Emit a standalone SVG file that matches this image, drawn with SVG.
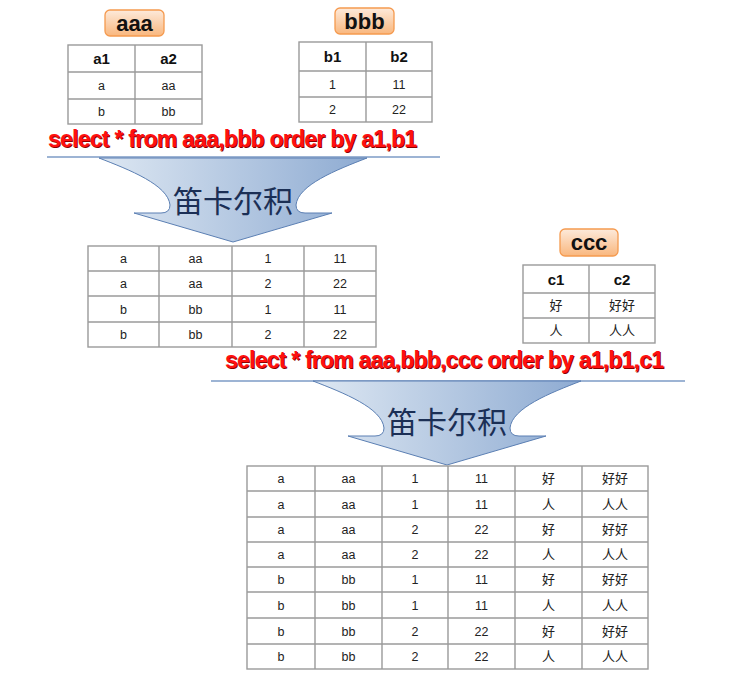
<svg xmlns="http://www.w3.org/2000/svg" width="735" height="676" viewBox="0 0 735 676">
<defs>
<linearGradient id="og" x1="0" y1="0" x2="0" y2="1">
<stop offset="0" stop-color="#fdeadb"/>
<stop offset="1" stop-color="#f9b77e"/>
</linearGradient>
<linearGradient id="bg" x1="0" y1="0" x2="1" y2="0">
<stop offset="0" stop-color="#dde7f2"/>
<stop offset="1" stop-color="#8eabd2"/>
</linearGradient>
<path id="arr" d="M-134,0 C-103,12 -65,27 -63,47 Q-63,55 -72,55 L-99,55 L0,84 L99,55 L72,55 Q63,55 63,47 C65,27 103,12 134,0 Z"/>
</defs>
<style>
.lbl{fill:url(#og);stroke:#f59a4f;stroke-width:1.3}
.lt{font-family:"Liberation Sans",Arial,sans-serif;font-weight:bold;font-size:22px;fill:#111;text-anchor:middle}
.tb{fill:#fff;stroke:#9a9a9a;stroke-width:1.4}
.gl{stroke:#9a9a9a;stroke-width:1.4;fill:none}
.h{font-family:"Liberation Sans",Arial,sans-serif;font-weight:bold;font-size:15px;fill:#111;text-anchor:middle}
.d{font-family:"Liberation Sans",Arial,"Noto Sans CJK SC",sans-serif;font-size:12.5px;fill:#222;text-anchor:middle}
.c{font-family:"Noto Sans CJK SC",sans-serif;font-size:13px;fill:#222;text-anchor:middle}
.sql{font-family:"Liberation Sans",Arial,sans-serif;font-weight:bold;font-size:23px}
.sh{fill:#8a0000}
.rd{fill:#ff1010}
.ar{fill:url(#bg);stroke:#5b7fb3;stroke-width:1}
.hl{stroke:#9db4d4;stroke-width:2}
.cj{font-family:"Noto Sans CJK SC",sans-serif;font-size:30px;fill:#1b2f55;text-anchor:middle}
</style>
<rect width="735" height="676" fill="#fff"/>

<g id="connectors">
<line class="hl" x1="47" y1="157" x2="440" y2="157"/>
<use href="#arr" class="ar" transform="translate(233,158)"/>
<text class="cj" x="233" y="212">笛卡尔积</text>
<line class="hl" x1="211" y1="381" x2="685" y2="381"/>
<use href="#arr" class="ar" transform="translate(447,381)"/>
<text class="cj" x="447" y="433">笛卡尔积</text>
</g>

<g id="label-aaa">
<rect class="lbl" x="105" y="10" width="59" height="26" rx="5"/>
<text class="lt" x="134.5" y="31">aaa</text>
</g>
<g id="label-bbb">
<rect class="lbl" x="335" y="8" width="59" height="26" rx="5"/>
<text class="lt" x="364.5" y="29">bbb</text>
</g>
<g id="label-ccc">
<rect class="lbl" x="560" y="229" width="58" height="27" rx="5"/>
<text class="lt" x="589" y="250">ccc</text>
</g>

<g id="table-aaa">
<rect class="tb" x="68" y="45" width="134" height="79"/>
<path class="gl" d="M135,45V124M68,72H202M68,99H202"/>
<text class="h" x="101.5" y="64">a1</text><text class="h" x="168.5" y="64">a2</text>
<text class="d" x="101.5" y="90">a</text><text class="d" x="168.5" y="90">aa</text>
<text class="d" x="101.5" y="116">b</text><text class="d" x="168.5" y="116">bb</text>
</g>

<g id="table-bbb">
<rect class="tb" x="299" y="42" width="133" height="80"/>
<path class="gl" d="M366,42V122M299,71H432M299,97H432"/>
<text class="h" x="332.5" y="62">b1</text><text class="h" x="399" y="62">b2</text>
<text class="d" x="332.5" y="88.5">1</text><text class="d" x="399" y="88.5">11</text>
<text class="d" x="332.5" y="114">2</text><text class="d" x="399" y="114">22</text>
</g>

<g id="sql-1">
<text class="sql sh" x="49" y="148" textLength="369" lengthAdjust="spacing">select * from aaa,bbb order by a1,b1</text>
<text class="sql rd" x="48" y="147" textLength="369" lengthAdjust="spacing">select * from aaa,bbb order by a1,b1</text>
</g>

<g id="table-ab">
<rect class="tb" x="88" y="246" width="288" height="101"/>
<path class="gl" d="M159,246V347M232,246V347M304,246V347M88,271H376M88,296H376M88,322H376"/>
<text class="d" x="123.5" y="263">a</text><text class="d" x="195.5" y="263">aa</text><text class="d" x="268" y="263">1</text><text class="d" x="340" y="263">11</text>
<text class="d" x="123.5" y="288">a</text><text class="d" x="195.5" y="288">aa</text><text class="d" x="268" y="288">2</text><text class="d" x="340" y="288">22</text>
<text class="d" x="123.5" y="313.5">b</text><text class="d" x="195.5" y="313.5">bb</text><text class="d" x="268" y="313.5">1</text><text class="d" x="340" y="313.5">11</text>
<text class="d" x="123.5" y="339">b</text><text class="d" x="195.5" y="339">bb</text><text class="d" x="268" y="339">2</text><text class="d" x="340" y="339">22</text>
</g>

<g id="table-ccc">
<rect class="tb" x="523" y="265" width="132" height="78"/>
<path class="gl" d="M589,265V343M523,293H655M523,318H655"/>
<text class="h" x="556" y="284.5">c1</text><text class="h" x="622" y="284.5">c2</text>
<text class="c" x="556" y="310">好</text><text class="c" x="622" y="310">好好</text>
<text class="c" x="556" y="335">人</text><text class="c" x="622" y="335">人人</text>
</g>

<g id="sql-2">
<text class="sql sh" x="226" y="369" textLength="439" lengthAdjust="spacing">select * from aaa,bbb,ccc order by a1,b1,c1</text>
<text class="sql rd" x="225" y="368" textLength="439" lengthAdjust="spacing">select * from aaa,bbb,ccc order by a1,b1,c1</text>
</g>

<g id="table-abc">
<rect class="tb" x="247" y="466" width="401" height="203"/>
<path class="gl" d="M315,466V669M382,466V669M448,466V669M515,466V669M582,466V669M247,491H648M247,517H648M247,542H648M247,567H648M247,592H648M247,618H648M247,644H648"/>
<g>
<text class="d" x="281" y="483">a</text><text class="d" x="348.5" y="483">aa</text><text class="d" x="415" y="483">1</text><text class="d" x="481.5" y="483">11</text><text class="c" x="548.5" y="483">好</text><text class="c" x="615" y="483">好好</text>
<text class="d" x="281" y="508.5">a</text><text class="d" x="348.5" y="508.5">aa</text><text class="d" x="415" y="508.5">1</text><text class="d" x="481.5" y="508.5">11</text><text class="c" x="548.5" y="508.5">人</text><text class="c" x="615" y="508.5">人人</text>
<text class="d" x="281" y="534">a</text><text class="d" x="348.5" y="534">aa</text><text class="d" x="415" y="534">2</text><text class="d" x="481.5" y="534">22</text><text class="c" x="548.5" y="534">好</text><text class="c" x="615" y="534">好好</text>
<text class="d" x="281" y="559">a</text><text class="d" x="348.5" y="559">aa</text><text class="d" x="415" y="559">2</text><text class="d" x="481.5" y="559">22</text><text class="c" x="548.5" y="559">人</text><text class="c" x="615" y="559">人人</text>
<text class="d" x="281" y="584">b</text><text class="d" x="348.5" y="584">bb</text><text class="d" x="415" y="584">1</text><text class="d" x="481.5" y="584">11</text><text class="c" x="548.5" y="584">好</text><text class="c" x="615" y="584">好好</text>
<text class="d" x="281" y="609.5">b</text><text class="d" x="348.5" y="609.5">bb</text><text class="d" x="415" y="609.5">1</text><text class="d" x="481.5" y="609.5">11</text><text class="c" x="548.5" y="609.5">人</text><text class="c" x="615" y="609.5">人人</text>
<text class="d" x="281" y="635.5">b</text><text class="d" x="348.5" y="635.5">bb</text><text class="d" x="415" y="635.5">2</text><text class="d" x="481.5" y="635.5">22</text><text class="c" x="548.5" y="635.5">好</text><text class="c" x="615" y="635.5">好好</text>
<text class="d" x="281" y="661">b</text><text class="d" x="348.5" y="661">bb</text><text class="d" x="415" y="661">2</text><text class="d" x="481.5" y="661">22</text><text class="c" x="548.5" y="661">人</text><text class="c" x="615" y="661">人人</text>
</g>
</g>
</svg>
